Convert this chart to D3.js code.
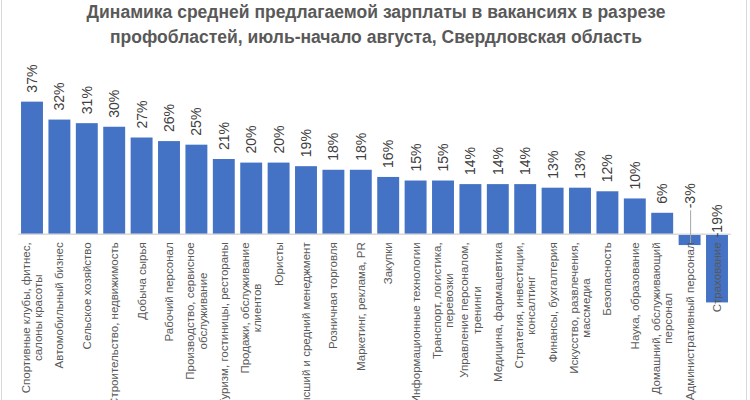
<!DOCTYPE html>
<html><head>
<meta charset="UTF-8">
<title>Динамика средней предлагаемой зарплаты</title>
<script src="https://d3js.org/d3.v7.min.js"></script>
<style>
    body { margin: 0; background: #fff; }
    svg { display: block; font-family: "Liberation Sans", Arial, sans-serif; }
    .title { font-size: 17.5px; font-weight: bold; fill: #595959; }
    .val { font-size: 14px; fill: #404040; }
    .cat { font-size: 11.5px; fill: #595959; }
</style>
</head>
<body>
<div id="chart"></div>
<script>
    const categories = [
        "Спортивные клубы, фитнес,\nсалоны красоты",
        "Автомобильный бизнес",
        "Сельское хозяйство",
        "Строительство, недвижимость",
        "Добыча сырья",
        "Рабочий персонал",
        "Производство, сервисное\nобслуживание",
        "Туризм, гостиницы, рестораны",
        "Продажи, обслуживание\nклиентов",
        "Юристы",
        "Высший и средний менеджмент",
        "Розничная торговля",
        "Маркетинг, реклама, PR",
        "Закупки",
        "Информационные технологии",
        "Транспорт, логистика,\nперевозки",
        "Управление персоналом,\nтренинги",
        "Медицина, фармацевтика",
        "Стратегия, инвестиции,\nконсалтинг",
        "Финансы, бухгалтерия",
        "Искусство, развлечения,\nмассмедиа",
        "Безопасность",
        "Наука, образование",
        "Домашний, обслуживающий\nперсонал",
        "Административный персонал",
        "Страхование"
    ];
    const values = [37, 32, 31, 30, 27, 26, 25, 21, 20, 20, 19, 18, 18, 16, 15, 15, 14, 14, 14, 13, 13, 12, 10, 6, -3, -19];
    const titleLines = [
        "Динамика средней предлагаемой зарплаты в вакансиях в разрезе",
        "профобластей, июль-начало августа,  Свердловская область"
    ];

    const width = 750, height = 400;

    const svg = d3.select("#chart").append("svg")
        .attr("width", width)
        .attr("height", height);

    // chart frame
    svg.append("rect")
        .attr("x", 1.5).attr("y", -10)
        .attr("width", 745).attr("height", 420)
        .attr("fill", "#fff")
        .attr("stroke", "#d9d9d9");

    svg.selectAll(".title")
        .data(titleLines)
        .enter().append("text")
        .attr("class", "title")
        .attr("x", 376)
        .attr("y", (d, i) => 18 + i * 25)
        .attr("text-anchor", "middle")
        .text(d => d);

    const x = d3.scaleBand()
        .domain(categories)
        .range([18.3, 730.7])
        .paddingInner(0.2)
        .paddingOuter(0.1);

    const y = d3.scaleLinear()
        .domain([-20, 40])
        .range([306, 90.9]);

    svg.selectAll(".bar")
        .data(values)
        .enter().append("rect")
        .attr("class", "bar")
        .attr("x", (d, i) => x(categories[i]))
        .attr("width", x.bandwidth())
        .attr("y", d => Math.min(y(d), y(0)))
        .attr("height", d => Math.abs(y(d) - y(0)))
        .attr("fill", "#4472C4");

    // baseline
    svg.append("line")
        .attr("x1", x.range()[0]).attr("x2", x.range()[1])
        .attr("y1", y(0)).attr("y2", y(0))
        .attr("stroke", "#d9d9d9")
        .attr("stroke-width", 1.5);

    // value labels (negative ones were moved by hand in the original)
    const labelBottom = (d, i) => {
        if (d >= 0) return y(d) - 9;
        if (d > -10) return y(0) - 26;
        return y(0) + 3;
    };
    const cx = i => x(categories[i]) + x.bandwidth() / 2;

    values.forEach((d, i) => {
        if (d < 0 && d > -10) {
            svg.append("line")
                .attr("x1", cx(i) + 1).attr("x2", cx(i) + 1)
                .attr("y1", labelBottom(d, i) + 2)
                .attr("y2", y(d) - 2)
                .attr("stroke", "#a6a6a6")
                .attr("stroke-width", 1);
        }
    });

    svg.selectAll(".val")
        .data(values)
        .enter().append("text")
        .attr("class", "val")
        .attr("transform", (d, i) => `translate(${cx(i)},${labelBottom(d, i)}) rotate(-90)`)
        .attr("dy", "0.35em")
        .text(d => (d < 0 ? "-" + Math.abs(d) : d) + "%");

    // category labels, rotated, lines centred within the block
    const catTop = y(0) + 8;
    const lineH = 12.5;
    const measure = svg.append("text").attr("class", "cat");

    categories.forEach((c, i) => {
        const lines = c.split("\n");
        const maxLen = d3.max(lines, l => {
            measure.text(l);
            return measure.node().getComputedTextLength();
        });
        const g = svg.append("g")
            .attr("transform", `translate(${cx(i)},${catTop}) rotate(-90)`);
        lines.forEach((l, k) => {
            g.append("text")
                .attr("class", "cat")
                .attr("x", -maxLen / 2)
                .attr("y", (k - (lines.length - 1) / 2) * lineH)
                .attr("dy", "0.35em")
                .attr("text-anchor", "middle")
                .text(l);
        });
    });
    measure.remove();
</script>
</body>
</html>
